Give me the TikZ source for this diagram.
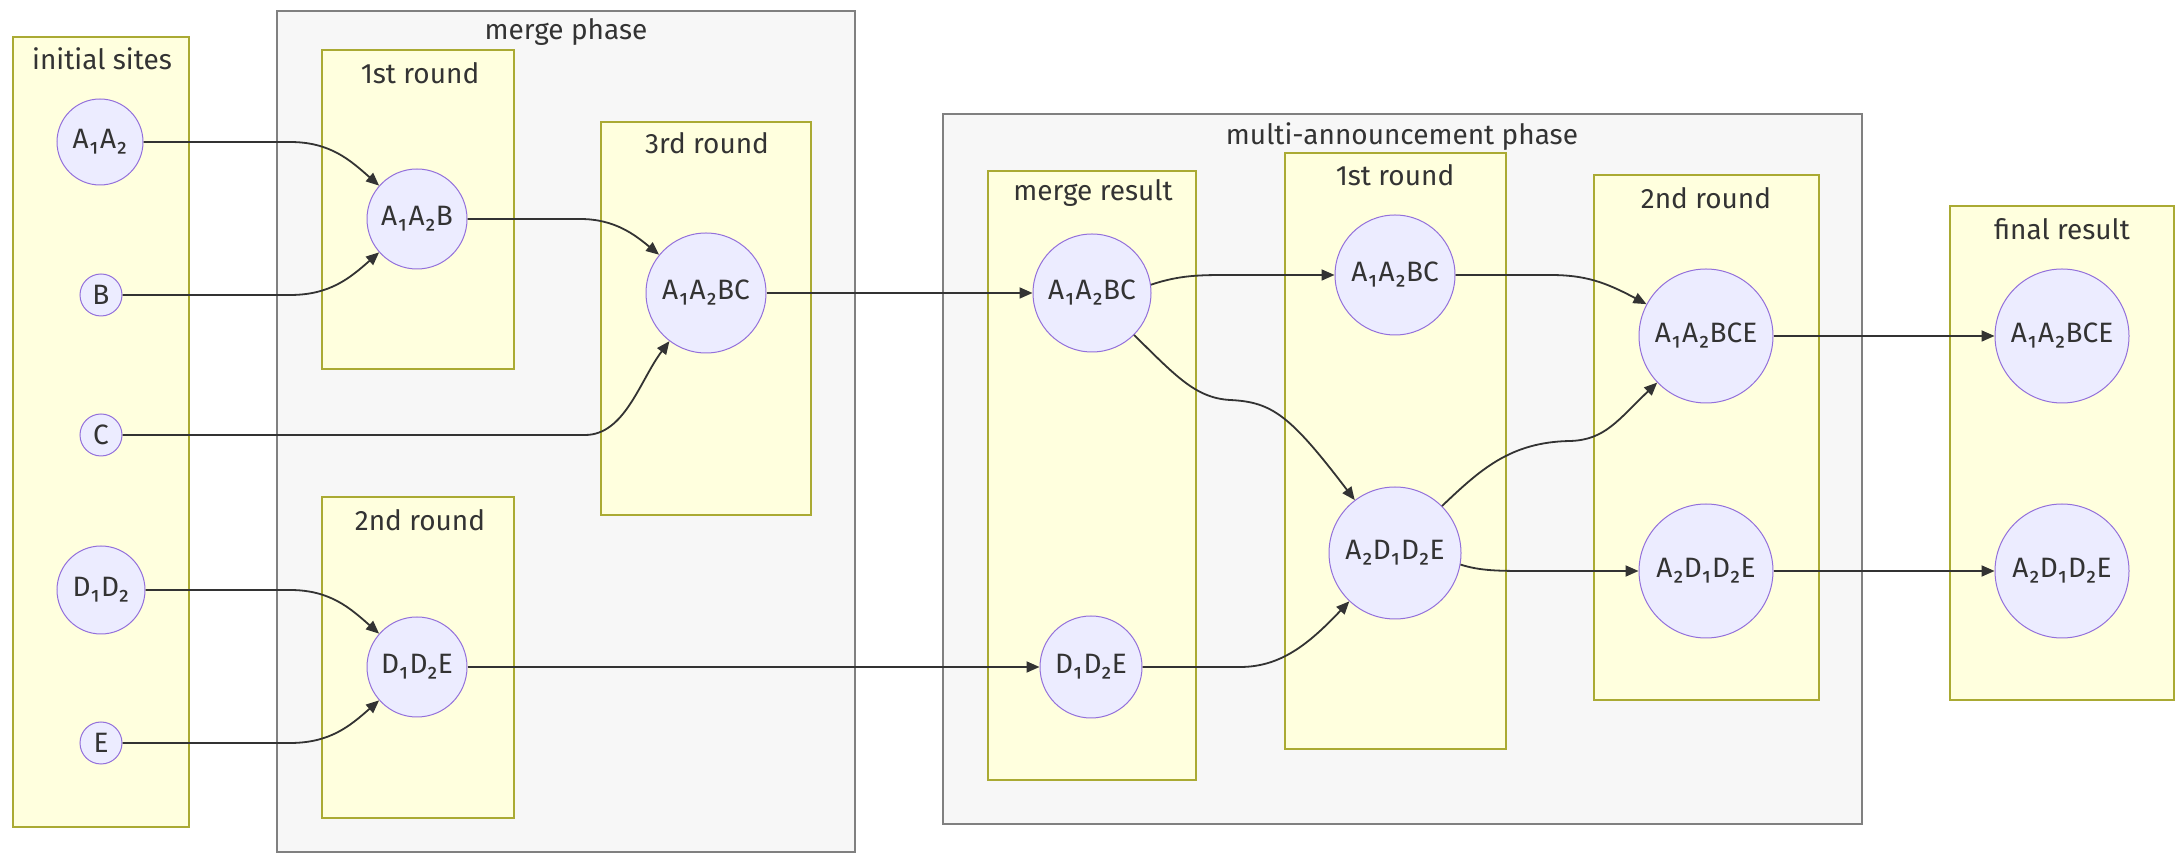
\documentclass[tikz,border=0pt]{standalone}
\usepackage{fontspec}
\setmainfont{Fira Sans}
\usetikzlibrary{arrows.meta}
\definecolor{clfill}{HTML}{FFFFDE}
\definecolor{clline}{HTML}{AAAA33}
\definecolor{grfill}{HTML}{F7F7F7}
\definecolor{grline}{HTML}{808080}
\definecolor{ndfill}{HTML}{ECECFF}
\definecolor{ndline}{HTML}{9370DB}
\definecolor{txt}{HTML}{333333}
\begin{document}
\begin{tikzpicture}[x=0.5pt,y=-0.5pt,
  lbl/.style={text=txt,font=\fontsize{14}{17}\selectfont,inner sep=0pt},
  nd/.style={circle,draw=ndline,fill=ndfill,line width=0.5pt,text=txt,font=\fontsize{14}{17}\selectfont,inner sep=0pt},
  outerbox/.style={draw=grline,fill=grfill,line width=1.1pt},
  innerbox/.style={draw=clline,fill=clfill,line width=0.6pt},
  edge/.style={draw=txt,line width=0.9pt,-{Triangle[length=6.5pt,width=5.5pt]}}
]
\useasboundingbox (0,0) rectangle (2175,854);
\fill[white] (0,0) rectangle (2175,854);

% clusters
\draw[innerbox] (13,37) rectangle (189,827);
\node[lbl] (tInit) at (102,59) {initial sites};

\draw[outerbox] (277,11) rectangle (855,852);
\node[lbl] (tMerge) at (566,32) {merge phase};
\draw[innerbox] (322,50) rectangle (514,369);
\node[lbl] (tM1) at (420,73) {1st round};
\draw[innerbox] (322,497) rectangle (514,818);
\node[lbl] (tM2) at (420,520) {2nd round};
\draw[innerbox] (601,122) rectangle (811,515);
\node[lbl] (tM3) at (707,143) {3rd round};

\draw[outerbox] (943,114) rectangle (1862,824);
\node[lbl] (tMulti) at (1402,137) {multi-announcement phase};
\draw[innerbox] (988,171) rectangle (1196,780);
\node[lbl] (tMR) at (1093,193) {merge result};
\draw[innerbox] (1285,153) rectangle (1506,749);
\node[lbl] (tR1) at (1395,175) {1st round};
\draw[innerbox] (1594,175) rectangle (1819,700);
\node[lbl] (tR2) at (1706,198) {2nd round};

\draw[innerbox] (1950,206) rectangle (2174,700);
\node[lbl] (tFin) at (2062,229) {final result};

% nodes
\node[nd,minimum size=43pt] (a1a2) at (100,142) {A₁A₂};
\node[nd,minimum size=21pt] (b) at (101,295) {B};
\node[nd,minimum size=21pt] (c) at (101,435) {C};
\node[nd,minimum size=44pt] (d1d2) at (101,590) {D₁D₂};
\node[nd,minimum size=21pt] (e) at (101,743) {E};

\node[nd,minimum size=50pt] (a1a2b) at (417,219) {A₁A₂B};
\node[nd,minimum size=50pt] (d1d2e) at (417,667) {D₁D₂E};
\node[nd,minimum size=60pt] (a1a2bc) at (706,293) {A₁A₂BC};

\node[nd,minimum size=59pt] (mA) at (1092,293) {A₁A₂BC};
\node[nd,minimum size=51pt] (mD) at (1091,667) {D₁D₂E};
\node[nd,minimum size=60pt] (r1A) at (1395,275) {A₁A₂BC};
\node[nd,minimum size=66pt] (r1D) at (1395,553) {A₂D₁D₂E};
\node[nd,minimum size=67pt] (r2A) at (1706,336) {A₁A₂BCE};
\node[nd,minimum size=67pt] (r2D) at (1706,571) {A₂D₁D₂E};
\node[nd,minimum size=67pt] (fA) at (2062,336) {A₁A₂BCE};
\node[nd,minimum size=67pt] (fD) at (2062,571) {A₂D₁D₂E};

% edges
\draw[edge] (a1a2) -- (290,142) .. controls (330,142) and (350,160) .. (a1a2b);
\draw[edge] (b) -- (290,295) .. controls (330,295) and (350,278) .. (a1a2b);
\draw[edge] (a1a2b) -- (580,219) .. controls (615,219) and (635,235) .. (a1a2bc);
\draw[edge] (c) -- (585,435) .. controls (625,435) and (640,380) .. (a1a2bc);
\draw[edge] (d1d2) -- (290,590) .. controls (330,590) and (350,608) .. (d1d2e);
\draw[edge] (e) -- (290,743) .. controls (330,743) and (350,726) .. (d1d2e);
\draw[edge] (a1a2bc) -- (mA);
\draw[edge] (d1d2e) -- (mD);
\draw[edge] (mA.8) .. controls (1180,275) and (1200,275) .. (1230,275) -- (r1A);
\draw[edge] (mA.-45) .. controls (1175,375) and (1195,398) .. (1230,400) .. controls (1272,402) and (1290,415) .. (r1D);
\draw[edge] (mD) -- (1240,667) .. controls (1280,667) and (1308,645) .. (r1D);
\draw[edge] (r1A) -- (1550,275) .. controls (1585,275) and (1605,282) .. (r2A);
\draw[edge] (r1D.45) .. controls (1480,470) and (1510,442) .. (1570,441) .. controls (1605,440) and (1618,420) .. (r2A);
\draw[edge] (r1D.-10) .. controls (1480,571) and (1500,571) .. (1530,571) -- (r2D);
\draw[edge] (r2A) -- (fA);
\draw[edge] (r2D) -- (fD);
\end{tikzpicture}
\end{document}
